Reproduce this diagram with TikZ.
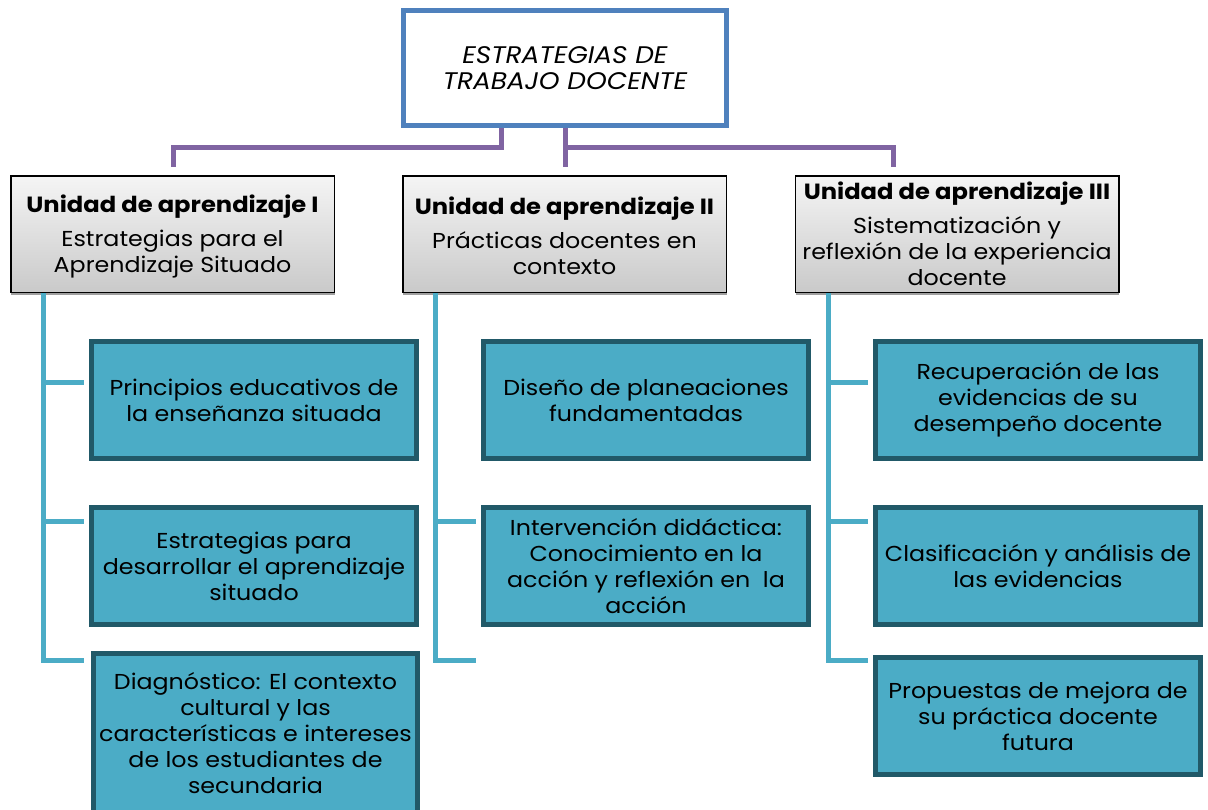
\documentclass[tikz,border=0pt]{standalone}
\usepackage{fontspec}
\setmainfont{Poppins}[FakeStretch=1.1]
\usetikzlibrary{shadows}
\definecolor{topblue}{HTML}{4F81BD}
\definecolor{purp}{HTML}{8064A2}
\definecolor{tealline}{HTML}{4BACC6}
\definecolor{tealfill}{HTML}{4BACC6}
\definecolor{tealdark}{HTML}{215968}
\newcommand{\unittitle}[1]{{\fontsize{22}{26}\selectfont\bfseries #1}}
\tikzset{
  topbox/.style={draw=topblue, line width=5pt, fill=white, minimum width=323pt, minimum height=115pt, align=center, inner sep=0pt, font=\fontsize{24}{26}\selectfont\itshape},
  unitbox/.style={draw=black, line width=1.5pt, top color=gray!8, bottom color=gray!42, minimum width=323.5pt, minimum height=116.5pt, align=center, inner sep=0pt, font=\fontsize{21.6}{26}\selectfont,
    drop shadow={shadow xshift=0.5pt, shadow yshift=-3pt, fill=gray!75, opacity=1}},
  childbox/.style={draw=tealdark, line width=5pt, fill=tealfill, minimum width=325pt, minimum height=117pt, align=center, inner sep=0pt, font=\fontsize{21.6}{26}\selectfont},
  pline/.style={draw=purp, line width=5pt},
  tline/.style={draw=tealline, line width=5pt},
}
\begin{document}
\begin{tikzpicture}[x=1pt,y=-1pt]
\useasboundingbox (0,0) rectangle (1208,809);
\fill[white] (0,0) rectangle (1208,809);

% top
\node[topbox] (top) at (565,68) {ESTRATEGIAS DE\\TRABAJO DOCENTE};

% purple connector coordinates
\coordinate (pa) at (501,147);
\coordinate (pb) at (173,167);
\coordinate (pc) at (565,167);
\coordinate (pd) at (893,167);
\coordinate (pm) at (565,147);

% units
\node[unitbox] (u1) at (172.5,234) {};
\node[unitbox] (u2) at (564.5,234) {};
\node[unitbox] (u3) at (957,234) {};
\node[align=center, inner sep=0pt, font=\fontsize{21.6}{26}\selectfont] (u1t) at (172.5,236.5) {\unittitle{Unidad de aprendizaje I}\\[8pt]Estrategias para el\\Aprendizaje Situado};
\node[align=center, inner sep=0pt, font=\fontsize{21.6}{26}\selectfont] (u2t) at (564.5,236) {\unittitle{Unidad de aprendizaje II}\\[8pt]Prácticas docentes en\\contexto};
\node[align=center, inner sep=0pt, font=\fontsize{21.6}{26}\selectfont] (u3t) at (957,234) {\unittitle{Unidad de aprendizaje III}\\[8pt]Sistematización y\\reflexión de la experiencia\\docente};

\draw[pline] (top.south -| pa) -- (pa) -| (pb);
\draw[pline] (top.south -| pc) -- (pc);
\draw[pline] (pm) -| (pd);

% children
\node[childbox] (c1a) at (254,400) {Principios educativos de\\la enseñanza situada};
\node[childbox] (c1b) at (254,566) {Estrategias para\\desarrollar el aprendizaje\\situado};
\node[childbox, minimum width=324pt, minimum height=159pt] (c1c) at (255.5,733) {Diagnóstico: El contexto\\cultural y las\\características e intereses\\de los estudiantes de\\secundaria};
\node[childbox] (c2a) at (646,400) {Diseño de planeaciones\\fundamentadas};
\node[childbox] (c2b) at (646,566) {Intervención didáctica:\\Conocimiento en la\\acción y reflexión en\ \ la\\acción};
\node[childbox] (c3a) at (1038,400) {Recuperación de las\\evidencias de su\\desempeño docente};
\node[childbox] (c3b) at (1038,566) {Clasificación y análisis de\\las evidencias};
\node[childbox] (c3c) at (1038,716) {Propuestas de mejora de\\su práctica docente\\futura};

% teal connector coordinates
\coordinate (t1) at (43,660);
\coordinate (e1a) at (84,382);
\coordinate (e1b) at (84,521);
\coordinate (e1c) at (84,660);
\coordinate (t2) at (435,660);
\coordinate (e2b) at (476,521);
\coordinate (e2c) at (476,660);
\coordinate (t3) at (828,660);
\coordinate (e3a) at (868,382);
\coordinate (e3b) at (868,521);
\coordinate (e3c) at (868,660);

\draw[tline] (u1.south -| t1) -- (t1) -- (e1c);
\draw[tline] (e1a -| t1) -- (e1a);
\draw[tline] (e1b -| t1) -- (e1b);
\draw[tline] (u2.south -| t2) -- (t2) -- (e2c);
\draw[tline] (e2b -| t2) -- (e2b);
\draw[tline] (u3.south -| t3) -- (t3) -- (e3c);
\draw[tline] (e3a -| t3) -- (e3a);
\draw[tline] (e3b -| t3) -- (e3b);
\end{tikzpicture}
\end{document}
